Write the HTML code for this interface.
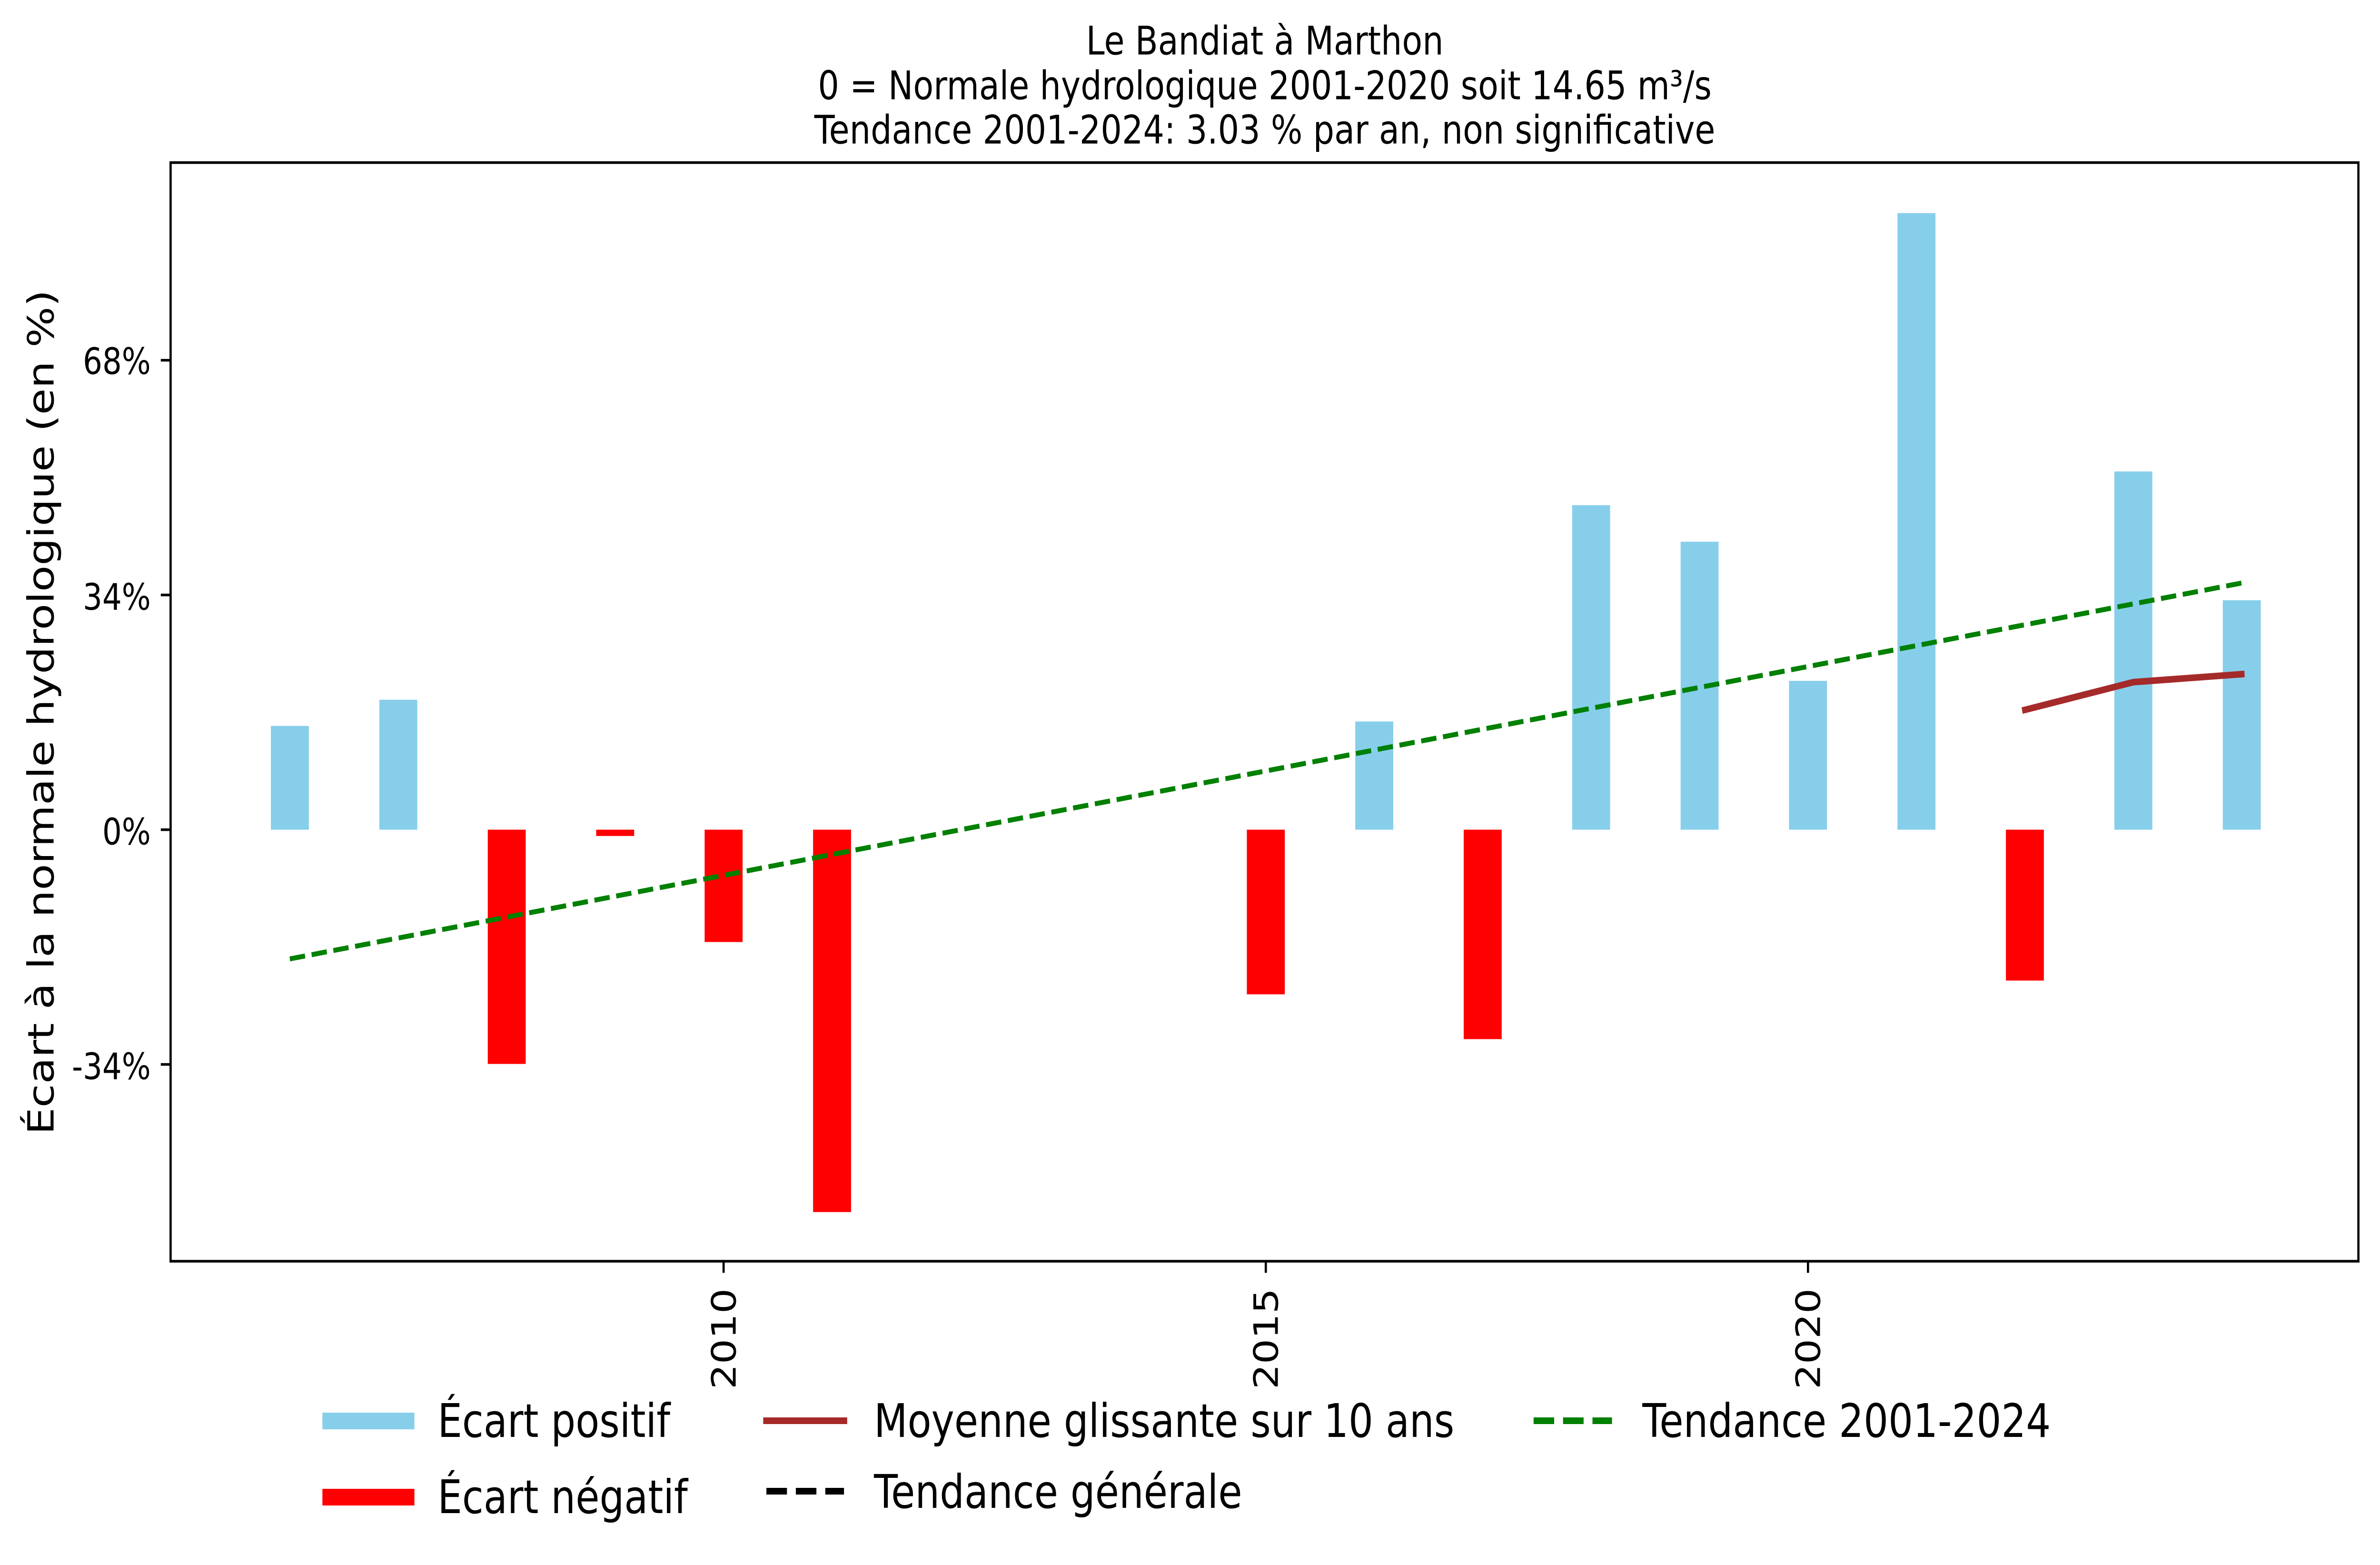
<!DOCTYPE html>
<html>
<head>
<meta charset="utf-8">
<style>
  html, body { margin: 0; padding: 0; background: #ffffff; width: 100%; height: 100%; overflow: hidden; }
  svg { display: block; width: 100vw; height: 100vh; }
  text { font-family: "DejaVu Sans", "Liberation Sans", sans-serif; fill: #000; }
</style>
</head>
<body>
<svg xmlns="http://www.w3.org/2000/svg" viewBox="0 0 5950 3287" preserveAspectRatio="none">
  <rect x="0" y="0" width="5950" height="3287" fill="#ffffff"/>

  <!-- Title -->
  <g font-size="83.3" text-anchor="middle">
    <text x="3162" y="114.3">Le Bandiat à Marthon</text>
    <text x="3162" y="208.3">0 = Normale hydrologique 2001-2020 soit 14.65 m³/s</text>
    <text x="3162" y="301.7">Tendance 2001-2024: 3.03 % par an, non significative</text>
  </g>

  <!-- Bars -->
  <g fill="#87CEEB">
    <rect x="677.2" y="1524.7" width="94.9" height="217.9"/>
    <rect x="948.3" y="1469.7" width="94.9" height="272.9"/>
    <rect x="3388.2" y="1515.4" width="94.9" height="227.2"/>
    <rect x="3930.4" y="1061.1" width="94.9" height="681.5"/>
    <rect x="4201.5" y="1137.8" width="94.9" height="604.8"/>
    <rect x="4472.6" y="1430.0" width="94.9" height="312.6"/>
    <rect x="4743.7" y="447.6" width="94.9" height="1295.0"/>
    <rect x="5285.9" y="990.2" width="94.9" height="752.4"/>
    <rect x="5557.0" y="1260.7" width="94.9" height="481.9"/>
  </g>
  <g fill="#FF0000">
    <rect x="1219.4" y="1742.6" width="94.9" height="492.0"/>
    <rect x="1490.5" y="1742.6" width="94.9" height="13.2"/>
    <rect x="1761.6" y="1742.6" width="94.9" height="235.9"/>
    <rect x="2032.7" y="1742.6" width="94.9" height="803.1"/>
    <rect x="3117.1" y="1742.6" width="94.9" height="345.8"/>
    <rect x="3659.3" y="1742.6" width="94.9" height="439.9"/>
    <rect x="5014.8" y="1742.6" width="94.9" height="316.9"/>
  </g>

  <!-- Trend line 2001-2024 -->
  <line x1="724.6" y1="2014" x2="5604.4" y2="1224.5" stroke="#008000" stroke-width="10.4" stroke-dasharray="38.5 16.6" stroke-linecap="butt"/>

  <!-- Moving average -->
  <polyline points="5062.2,1491 5333.3,1432.7 5604.4,1416" fill="none" stroke="#A52A2A" stroke-width="13.9" stroke-linecap="square" stroke-linejoin="round"/>

  <!-- Axes spines -->
  <rect x="426.5" y="341.5" width="5469.5" height="2307.5" fill="none" stroke="#000" stroke-width="5.56"/>

  <!-- Y ticks -->
  <g stroke="#000" stroke-width="5.56">
    <line x1="402" y1="756.6" x2="426.5" y2="756.6"/>
    <line x1="402" y1="1249.6" x2="426.5" y2="1249.6"/>
    <line x1="402" y1="1742.6" x2="426.5" y2="1742.6"/>
    <line x1="402" y1="2235.6" x2="426.5" y2="2235.6"/>
  </g>
  <g font-size="76.4" text-anchor="end">
    <text x="377" y="785.6">68%</text>
    <text x="377" y="1280.6">34%</text>
    <text x="377" y="1773.6">0%</text>
    <text x="377" y="2266.6">-34%</text>
  </g>

  <!-- X ticks -->
  <g stroke="#000" stroke-width="5.56">
    <line x1="1809" y1="2649" x2="1809" y2="2673.3"/>
    <line x1="3164.5" y1="2649" x2="3164.5" y2="2673.3"/>
    <line x1="4520" y1="2649" x2="4520" y2="2673.3"/>
  </g>
  <g font-size="83.3" text-anchor="end">
    <text transform="translate(1839,2706) rotate(-90)">2010</text>
    <text transform="translate(3194.5,2706) rotate(-90)">2015</text>
    <text transform="translate(4550,2706) rotate(-90)">2020</text>
  </g>

  <!-- Y label -->
  <text font-size="90.3" text-anchor="middle" transform="translate(134,1496) rotate(-90)">Écart à la normale hydrologique (en %)</text>

  <!-- Legend -->
  <g>
    <rect x="806" y="2967" width="230" height="35" fill="#87CEEB"/>
    <text x="1094" y="3018" font-size="97.2">Écart positif</text>
    <rect x="806" y="3127" width="230" height="35" fill="#FF0000"/>
    <text x="1094" y="3178" font-size="97.2">Écart négatif</text>

    <rect x="1908" y="2977" width="210" height="14" fill="#A52A2A"/>
    <text x="2185" y="3018" font-size="97.2">Moyenne glissante sur 10 ans</text>
    <line x1="1916" y1="3132" x2="2110" y2="3132" stroke="#000" stroke-width="13.9" stroke-dasharray="51.4 22.2" stroke-linecap="butt"/>
    <text x="2185" y="3167" font-size="97.2">Tendance générale</text>

    <line x1="3834" y1="2984" x2="4030" y2="2984" stroke="#008000" stroke-width="13.9" stroke-dasharray="51.4 22.2" stroke-linecap="butt"/>
    <text x="4106" y="3018" font-size="97.2">Tendance 2001-2024</text>
  </g>
</svg>
</body>
</html>
